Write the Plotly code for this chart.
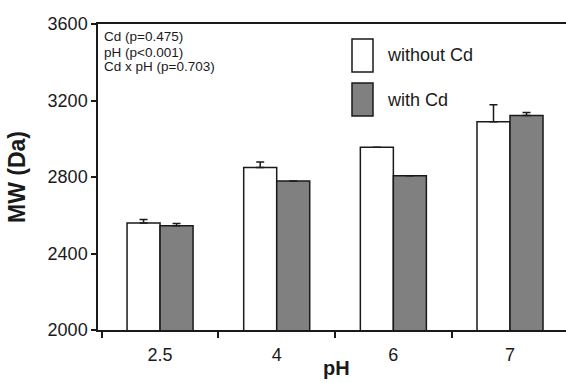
import plotly.graph_objects as go

categories = ["2.5", "4", "6", "7"]
without_cd = [2560, 2850, 2955, 3089]
without_cd_err = [18, 28, 0, 89]
with_cd = [2545, 2779, 2806, 3121]
with_cd_err = [12, 0, 0, 16]
y_ticks = [2000, 2400, 2800, 3200, 3600]
stats_lines = ["Cd (p=0.475)", "pH (p<0.001)", "Cd x pH (p=0.703)"]
series_names = ["without Cd", "with Cd"]
series_colors = ["#ffffff", "#808080"]

FONT = "Liberation Sans, Arial, sans-serif"
INK = "#1a1a1a"

L, T, PW, PH = 98, 24, 468, 306

def px(x):
    return (x - L) / PW

def py(y):
    return 1 - (y - T) / PH

fig = go.Figure()
for name, vals, errs, col in [
    (series_names[0], without_cd, without_cd_err, series_colors[0]),
    (series_names[1], with_cd, with_cd_err, series_colors[1]),
]:
    fig.add_trace(go.Bar(
        x=categories, y=vals, name=name,
        marker=dict(color=col, line=dict(color=INK, width=1.5)),
        error_y=dict(type="data", array=errs, arrayminus=[0]*len(errs), symmetric=False,
                     visible=True, color=INK, thickness=1.5, width=4),
        showlegend=False,
    ))

fig.update_layout(
    width=566, height=383,
    margin=dict(l=L, r=0, t=T, b=383 - T - PH),
    paper_bgcolor="white", plot_bgcolor="white",
    barmode="group", bargap=0.434, bargroupgap=0,
    font=dict(family=FONT, color=INK),
)
fig.update_xaxes(
    type="category", range=[-0.532, 3.48],
    showline=True, linecolor=INK, linewidth=1.5, mirror=True,
    ticks="outside", tickson="boundaries", ticklen=6, tickwidth=1.5, tickcolor=INK,
    tickfont=dict(size=18, family=FONT, color=INK), ticklabelstandoff=8,
    showgrid=False, zeroline=False,
)
fig.update_yaxes(
    range=[2000, 3600], tickvals=y_ticks,
    showline=True, linecolor=INK, linewidth=1.5,
    ticks="outside", ticklen=5, tickwidth=1.5, tickcolor=INK,
    tickfont=dict(size=18, family=FONT, color=INK),
    showgrid=False, zeroline=False,
    title=dict(text="<b>MW (Da)</b>", font=dict(size=23, family=FONT, color=INK), standoff=16),
)

# x-axis title
fig.add_annotation(xref="paper", yref="paper", x=px(336), y=py(368),
                   text="<b>pH</b>", showarrow=False, xanchor="center", yanchor="middle",
                   borderpad=0, font=dict(size=20, family=FONT, color=INK))

# stats text
for i, line in enumerate(stats_lines):
    fig.add_annotation(xref="paper", yref="paper", x=px(103), y=py(37 + 15 * i),
                       text=line, showarrow=False, xanchor="left", yanchor="middle",
                       borderpad=0, font=dict(size=13.5, family=FONT, color=INK))

# manual legend
leg_boxes = [(39, 72), (83, 116)]
for (y0, y1), name, col in zip(leg_boxes, series_names, series_colors):
    fig.add_shape(type="rect", xref="paper", yref="paper",
                  x0=px(352), x1=px(373), y0=py(y1), y1=py(y0),
                  fillcolor=col, line=dict(color=INK, width=1.5))
    fig.add_annotation(xref="paper", yref="paper", x=px(385), y=py((y0 + y1) / 2),
                       text=name, showarrow=False, xanchor="left", yanchor="middle",
                       font=dict(size=18, family=FONT, color=INK))

fig.write_html("out.html")
